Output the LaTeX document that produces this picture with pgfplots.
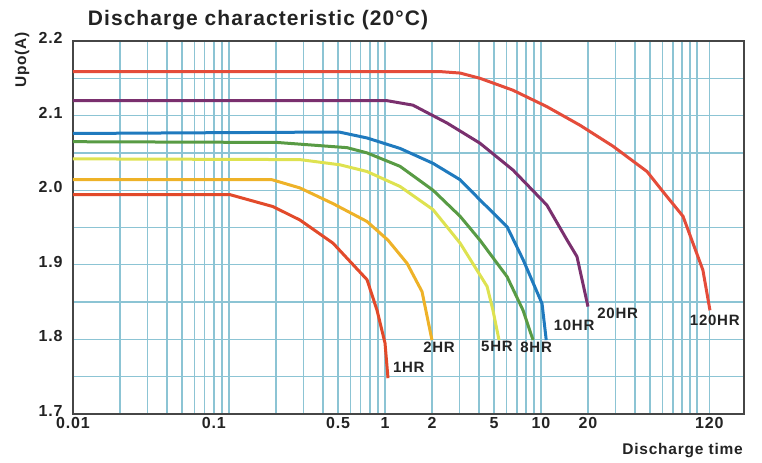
\documentclass[border=0pt]{standalone}
\usepackage{fontspec}
\setmainfont{Liberation Sans}[LetterSpace=5]
\usepackage{pgfplots}
\pgfplotsset{compat=1.18}
\definecolor{gridblue}{RGB}{140,196,212}
\definecolor{axisgray}{RGB}{70,70,70}
\definecolor{txtgray}{RGB}{35,35,35}
\definecolor{hr120}{RGB}{228,76,58}
\definecolor{hr20}{RGB}{122,48,110}
\definecolor{hr10}{RGB}{31,122,190}
\definecolor{hr8}{RGB}{88,155,68}
\definecolor{hr5}{RGB}{222,226,80}
\definecolor{hr2}{RGB}{238,178,40}
\definecolor{hr1}{RGB}{226,74,42}

\begin{document}
\begin{tikzpicture}
\begin{axis}[
  scale only axis,
  width=671pt, height=373pt,
  xmode=log, xmin=0.01, xmax=200,
  ymin=1.7, ymax=2.2,
  % the source prints "0.1" on the 0.08 grid line
  xtick={0.01,0.08,0.5,1,2,5,10,20,120},
  xticklabels={0.01,0.1,0.5,1,2,5,10,20,120},
  minor xtick={0.02,0.03,0.04,0.05,0.06,0.07,0.09,0.1,
               0.2,0.3,0.4,0.6,0.7,0.8,0.9,
               3,4,6,7,8,9,30,40,50,60,70,80,90,100},
  ytick={1.7,1.8,1.9,2.0,2.1,2.2},
  yticklabels={1.7,1.8,1.9,2.0,2.1,2.2},
  minor ytick={1.75,1.85,1.95,2.05,2.15},
  grid=both,
  major grid style={gridblue, line width=1.3pt},
  minor grid style={gridblue, line width=1.3pt},
  major tick length=0pt, minor tick length=0pt,
  axis line style={axisgray, line width=1.6pt},
  tick label style={font=\fontsize{16}{16}\selectfont\bfseries, text=txtgray},
  yticklabel style={xshift=-7pt, yshift=3pt},
  every axis plot/.append style={line width=3pt, line join=round, no marks},
]
% 120HR
\addplot[hr120] coordinates {(0.01,2.159)(2.25,2.159)(3.03,2.157)(4.06,2.150)(6.61,2.134)(10.9,2.112)(17.8,2.087)(28.9,2.059)(47.8,2.025)(60.5,1.998)(81.3,1.965)(109,1.893)(121,1.839)};
% 20HR
\addplot[hr20] coordinates {(0.01,2.120)(1.03,2.120)(1.51,2.114)(2.50,2.090)(4.06,2.063)(6.61,2.027)(10.9,1.980)(14.7,1.933)(17.0,1.911)(20.0,1.844)};
% 10HR
\addplot[hr10] coordinates {(0.01,2.076)(0.507,2.078)(0.767,2.070)(1.248,2.056)(2.03,2.036)(3.03,2.014)(4.06,1.987)(6.06,1.951)(7.67,1.907)(10.15,1.848)(10.8,1.799)};
% 8HR
\addplot[hr8] coordinates {(0.01,2.065)(0.203,2.064)(0.571,2.057)(0.767,2.050)(1.248,2.032)(2.03,2.000)(3.03,1.965)(4.06,1.933)(6.06,1.884)(7.67,1.839)(8.89,1.799)};
% 5HR
\addplot[hr5] coordinates {(0.01,2.042)(0.285,2.041)(0.515,2.034)(0.767,2.025)(1.248,2.005)(2.03,1.974)(3.03,1.929)(4.51,1.871)(4.92,1.839)(5.38,1.799)};
% 2HR
\addplot[hr2] coordinates {(0.01,2.014)(0.189,2.014)(0.285,2.003)(0.464,1.982)(0.767,1.958)(1.045,1.933)(1.384,1.902)(1.727,1.864)(2.0,1.799)};
% 1HR
\addplot[hr1] coordinates {(0.01,1.994)(0.1015,1.994)(0.1915,1.978)(0.285,1.960)(0.464,1.929)(0.767,1.880)(0.889,1.839)(1.0,1.795)(1.045,1.748)};

\begin{scope}[every node/.style={font=\fontsize{15}{15}\selectfont\bfseries, text=txtgray}]
\node at (axis cs:1.42,1.763) {1HR};
\node at (axis cs:2.22,1.790) {2HR};
\node at (axis cs:5.22,1.790) {5HR};
\node at (axis cs:9.3,1.790) {8HR};
\node at (axis cs:16.3,1.819) {10HR};
\node at (axis cs:31,1.835) {20HR};
\node at (axis cs:130,1.826) {120HR};
\end{scope}
\end{axis}
\node[font=\fontsize{21}{21}\selectfont\bfseries, text=txtgray]
  at ([xshift=185pt,yshift=21pt]current axis.north west) {Discharge characteristic (20°C)};
\node[font=\fontsize{15.5}{15.5}\selectfont\bfseries, text=txtgray, rotate=90]
  at ([xshift=-51pt,yshift=-19pt]current axis.north west) {Upo(A)};
\node[font=\fontsize{15.5}{15.5}\selectfont\bfseries, text=txtgray, anchor=east, inner sep=0pt]
  at ([xshift=-1pt,yshift=-37pt]current axis.south east) {Discharge time};
\path[use as bounding box] ([xshift=-73pt,yshift=-49pt]current axis.south west)
  rectangle ([xshift=18pt,yshift=41pt]current axis.north east);
\end{tikzpicture}
\end{document}
